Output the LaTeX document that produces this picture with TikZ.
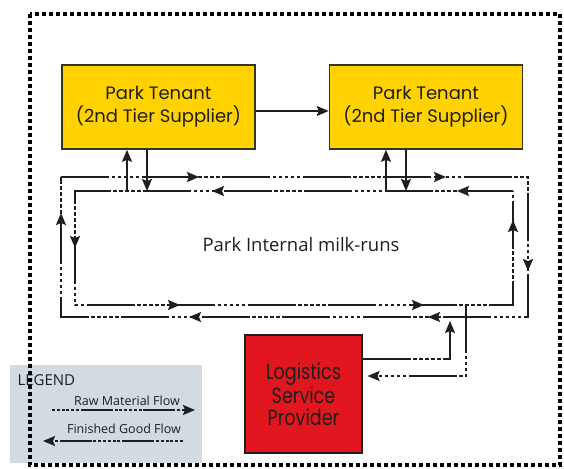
\documentclass[tikz,border=0pt]{standalone}
\usepackage{fontspec}
\newfontfamily\boxfont{Poppins}
\newfontfamily\lspfont[FakeStretch=0.8]{Poppins}
\newfontfamily\labelfont{Open Sans}
\usetikzlibrary{arrows.meta,decorations.markings}

\definecolor{tenantyellow}{HTML}{FFD200}
\definecolor{lspred}{HTML}{E2161F}
\definecolor{legendgrey}{HTML}{D3DBE2}
\definecolor{inkdark}{HTML}{1E1E1E}

\begin{document}
\begin{tikzpicture}[x=1pt,y=-1pt,
  >={Stealth[length=12pt,width=10pt,inset=2pt]},
  tenant/.style={draw=inkdark!90!yellow, line width=1.6pt, fill=tenantyellow,
    minimum width=193pt, minimum height=84pt, align=center, text=inkdark,
    font=\boxfont\fontsize{18}{23}\selectfont},
  lspbox/.style={draw=inkdark, line width=1.2pt, fill=lspred,
    minimum width=117pt, minimum height=118pt, align=center, text=inkdark,
    font=\lspfont\fontsize{22}{22}\selectfont},
  legendbox/.style={fill=legendgrey, minimum width=192pt, minimum height=98pt, inner sep=0pt},
  runline/.style={inkdark, line width=1.8pt,
    dash pattern=on 48pt off 2.5pt on 3.5pt off 2.5pt on 3.5pt off 2.5pt on 3.5pt off 2.5pt on 3.5pt off 2.5pt on 3.5pt off 2.5pt},
  keyline/.style={inkdark, line width=1.8pt,
    dash pattern=on 3pt off 1.8pt on 3pt off 1.8pt on 3pt off 1.8pt on 3pt off 1.8pt on 3pt off 1.8pt on 3pt off 1.8pt on 32pt off 1.8pt},
  solidflow/.style={inkdark, line width=1.7pt},
  tipsat/.style={postaction={decorate}, decoration={markings, #1}}
]
% canvas
\useasboundingbox (0,0) rectangle (564,468);
\fill[white] (0,0) rectangle (564,468);

% boxes
\node[tenant] (t1) at (158.5,107) {Park Tenant\\(2nd Tier Supplier)};
\node[tenant] (t2) at (426,107) {Park Tenant\\(2nd Tier Supplier)};
\node[lspbox] (lsp) at (303.5,394) {Logistics\\Service\\Provider};

% tenant to tenant
\draw[solidflow,->] (t1.east |- 0,111) -- (t2.west |- 0,111);

% outer milk-run loop (clockwise)
\coordinate (oTL) at (61,177);
\coordinate (oTR) at (528,177);
\coordinate (oBR) at (528,317);
\coordinate (oBL) at (61,317);
\draw[runline, tipsat={mark=at position 138pt with {\arrow{>}},
    mark=at position 385pt with {\arrow{>}},
    mark=at position 561pt with {\arrow{>}},
    mark=at position 707pt with {\arrow{>}},
    mark=at position 946pt with {\arrow{>}},
    mark=at position 1178pt with {\arrow{>}}}]
  (oTL) -- (oTR) -- (oBR) -- (oBL) -- cycle;

% inner milk-run loop (counter-clockwise)
\coordinate (iTR) at (513,191);
\coordinate (iTL) at (75,191);
\coordinate (iBL) at (75,305);
\coordinate (iBR) at (513,305);
\draw[runline, tipsat={mark=at position 56pt with {\arrow{>}},
    mark=at position 301pt with {\arrow{>}},
    mark=at position 495pt with {\arrow{>}},
    mark=at position 657pt with {\arrow{>}},
    mark=at position 901pt with {\arrow{>}},
    mark=at position 1075pt with {\arrow{>}}}]
  (iTR) -- (iTL) -- (iBL) -- (iBR) -- cycle;

\node[font=\labelfont\fontsize{18.5}{22}\selectfont, text=inkdark] (runs) at (301,245) {Park Internal milk-runs};

% pick-up and drop-off at the tenants
\coordinate (u1) at (127,191);
\coordinate (d1) at (147,191);
\coordinate (u2) at (386,191);
\coordinate (d2) at (406,191);
\draw[solidflow,->] (u1) -- (u1 |- t1.south);
\draw[solidflow,->] (d1 |- t1.south) -- (d1);
\draw[solidflow,->] (u2) -- (u2 |- t2.south);
\draw[solidflow,->] (d2 |- t2.south) -- (d2);

% logistics service provider links
\coordinate (lspup) at (450,317);
\coordinate (lspin) at (466,305);
\draw[runline,->,shorten >=4pt] (lsp.east |- 0,359) -| (lspup);
\draw[runline,->,shorten >=5pt] (lspin) |- (lsp.east |- 0,376);

% legend
\node[legendbox] (legend) at (106,414) {};
\node[anchor=west, font=\labelfont\fontsize{15}{18}\selectfont, text=inkdark] (legtitle) at (14,380) {LEGEND};
\node[font=\labelfont\fontsize{12.5}{15}\selectfont, text=inkdark] (rawtext) at (127,401) {Raw Material Flow};
\node[font=\labelfont\fontsize{12.5}{15}\selectfont, text=inkdark] (fintext) at (124,429) {Finished Good Flow};
\coordinate (rawA) at (52,410);
\coordinate (rawB) at (195,410);
\coordinate (finA) at (183,441);
\coordinate (finB) at (43,441);
\draw[keyline,->] (rawA) -- (rawB);
\draw[keyline,->] (finA) -- (finB);

% dotted park boundary
\draw[black, line width=3.6pt, dash pattern=on 3.6pt off 3.4pt] (30,14) rectangle (560,465);
\end{tikzpicture}
\end{document}
